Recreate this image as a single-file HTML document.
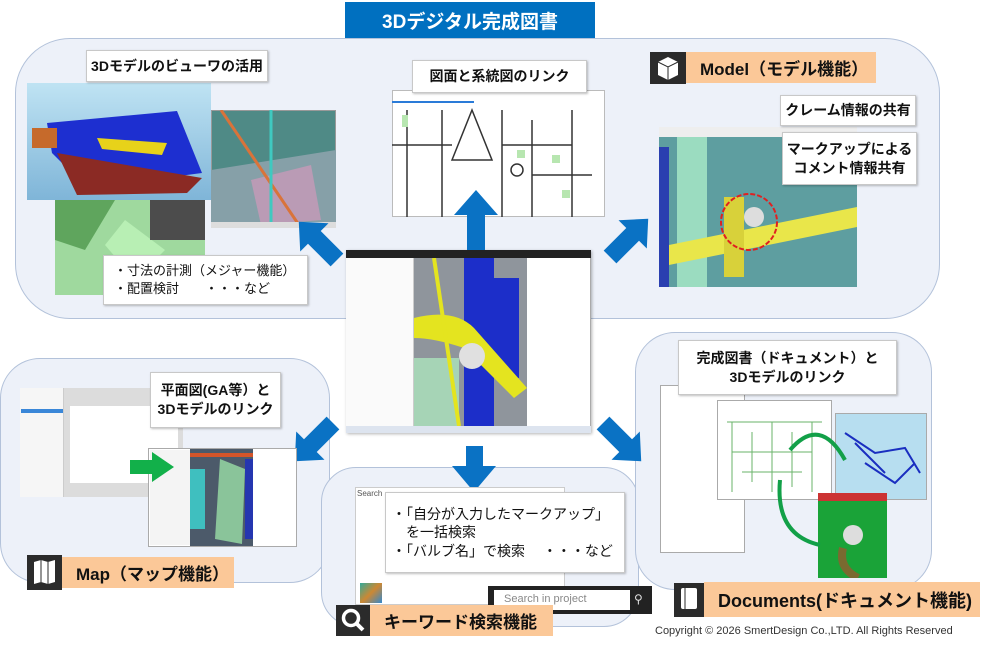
<!DOCTYPE html>
<html><head><meta charset="utf-8"><style>
html,body{margin:0;padding:0;background:#fff;}
body{width:1000px;height:650px;position:relative;overflow:hidden;font-family:"Liberation Sans","Noto Sans CJK JP",sans-serif;}
.a{position:absolute;box-sizing:border-box;}
.panel{background:#edf1f9;border:1.5px solid #b3c2da;}
.lbl{background:#fff;border:1px solid #c8c8c8;box-shadow:1px 1px 2px rgba(0,0,0,.25);font-weight:bold;color:#111;display:flex;align-items:center;justify-content:center;text-align:center;font-size:14px;line-height:1.35;}
.or{background:#fbc898;font-weight:bold;font-size:17px;color:#111;display:flex;align-items:center;padding-left:14px;}
.ic{background:#2b2b2b;}
</style></head><body>

<div class="a panel" style="left:15px;top:38px;width:925px;height:281px;border-radius:55px;"></div>
<div class="a panel" style="left:0;top:358px;width:330px;height:225px;border-radius:40px;"></div>
<div class="a panel" style="left:321px;top:467px;width:318px;height:160px;border-radius:35px;"></div>
<div class="a panel" style="left:635px;top:332px;width:297px;height:258px;border-radius:40px;"></div>

<div class="a" style="left:345px;top:2px;width:250px;height:36px;background:#0070c0;color:#fff;font-weight:bold;font-size:19px;display:flex;align-items:center;justify-content:center;">3Dデジタル完成図書</div>

<div class="a" style="left:27px;top:83px;width:184px;height:117px;background:linear-gradient(#bfe3f3,#7fb5d8);"></div>
<svg class="a" style="left:27px;top:83px" width="184" height="117"><path d="M20 40 L150 28 L175 90 L60 105 L25 70Z" fill="#1d2fd0"/><path d="M30 70 L175 95 L160 110 L50 112Z" fill="#8b2a24"/><rect x="5" y="45" width="25" height="20" fill="#c66a2b"/><path d="M70 55 L140 60 L135 72 L75 66Z" fill="#e7d21a"/></svg>
<div class="a" style="left:55px;top:200px;width:150px;height:95px;background:#9fd99e;"></div>
<svg class="a" style="left:55px;top:200px" width="150" height="95"><path d="M0 0 L60 0 L30 50 L0 40Z" fill="#5fa55d"/><path d="M70 20 L110 50 L80 80 L50 45Z" fill="#b8efb4"/><rect x="95" y="0" width="55" height="40" fill="#4c4c4c"/></svg>
<div class="a" style="left:211px;top:110px;width:125px;height:118px;background:#4f8a86;border:1px solid #999;"></div>
<svg class="a" style="left:211px;top:110px" width="125" height="118"><path d="M0 60 L125 40 L125 118 L0 118Z" fill="#86a0a8"/><path d="M40 70 L100 55 L110 110 L50 115Z" fill="#c79ab8" opacity=".8"/><line x1="10" y1="0" x2="90" y2="118" stroke="#d9733a" stroke-width="3"/><line x1="60" y1="0" x2="60" y2="118" stroke="#3fc9c0" stroke-width="3"/><rect x="0" y="112" width="125" height="6" fill="#ddd"/></svg>
<div class="a lbl" style="left:86px;top:50px;width:182px;height:32px;">3Dモデルのビューワの活用</div>
<div class="a lbl" style="left:103px;top:255px;width:205px;height:50px;justify-content:flex-start;text-align:left;padding-left:10px;font-size:13px;font-weight:normal;">・寸法の計測（メジャー機能）<br>・配置検討　　・・・など</div>

<div class="a" style="left:392px;top:90px;width:213px;height:127px;background:#fff;border:1px solid #bbb;"></div>
<svg class="a" style="left:392px;top:90px" width="213" height="127"><line x1="0" y1="12" x2="82" y2="12" stroke="#2a7bd8" stroke-width="2"/><g stroke="#333" fill="none" stroke-width="1.5"><path d="M15 20 V127 M50 20 V127 M110 20 V127 M140 30 V127 M180 20 V127 M0 55 H60 M110 55 H180 M60 70 L80 20 L100 70Z M140 85 H200"/><circle cx="125" cy="80" r="6"/></g><g fill="#b7e6b0"><rect x="10" y="25" width="6" height="12"/><rect x="125" y="60" width="8" height="8"/><rect x="160" y="65" width="8" height="8"/><rect x="170" y="100" width="8" height="8"/></g></svg>
<div class="a lbl" style="left:412px;top:60px;width:175px;height:33px;">図面と系統図のリンク</div>

<div class="a ic" style="left:650px;top:52px;width:36px;height:32px;"></div>
<svg class="a" style="left:656px;top:55px" width="24" height="27"><path d="M12 2 L22 7 V20 L12 25 L2 20 V7Z" fill="#fff"/><path d="M12 12 V25 M2 7 L12 12 L22 7" stroke="#2b2b2b" fill="none"/></svg>
<div class="a or" style="left:686px;top:52px;width:190px;height:31px;">Model（モデル機能）</div>
<div class="a" style="left:659px;top:127px;width:198px;height:160px;background:#4b8a86;border:1px solid #bbb;"></div>
<svg class="a" style="left:659px;top:127px" width="198" height="160"><rect width="198" height="10" fill="#eee"/><rect x="0" y="10" width="198" height="150" fill="#5e9ea0"/><rect x="18" y="10" width="30" height="150" fill="#9bdcc0"/><path d="M0 120 L198 80 L198 100 L0 140Z" fill="#e9e64a"/><rect x="65" y="70" width="20" height="80" fill="#d8d13a"/><circle cx="90" cy="95" r="28" fill="none" stroke="#e02020" stroke-width="2" stroke-dasharray="5 2"/><circle cx="95" cy="90" r="10" fill="#ddd"/><rect x="0" y="20" width="10" height="140" fill="#2a3fb0"/></svg>
<div class="a lbl" style="left:780px;top:95px;width:136px;height:31px;">クレーム情報の共有</div>
<div class="a lbl" style="left:782px;top:132px;width:135px;height:53px;">マークアップによる<br>コメント情報共有</div>

<div class="a" style="left:346px;top:250px;width:245px;height:183px;background:#fff;border:1px solid #aaa;box-shadow:1px 1px 3px rgba(0,0,0,.3);"></div>
<div class="a" style="left:346px;top:250px;width:245px;height:8px;background:#222;"></div>
<div class="a" style="left:346px;top:258px;width:68px;height:168px;background:#fafafa;border-right:1px solid #ccc;"></div>
<svg class="a" style="left:414px;top:258px" width="113" height="168"><rect width="113" height="168" fill="#8f959c"/><rect x="50" y="0" width="30" height="168" fill="#1c2ec9"/><rect x="80" y="20" width="25" height="100" fill="#1c2ec9"/><path d="M0 60 Q40 50 60 70 L113 130 L100 140 L50 90 Q20 80 0 80Z" fill="#e4e41f"/><circle cx="58" cy="98" r="13" fill="#e0e0e0"/><rect x="0" y="100" width="45" height="68" fill="#a6d4b6"/><line x1="20" y1="0" x2="45" y2="168" stroke="#e4e41f" stroke-width="4"/></svg>
<div class="a" style="left:346px;top:426px;width:245px;height:7px;background:#dde4ef;"></div>

<svg class="a" style="left:0;top:0" width="1000" height="650">
<g fill="#0a72c4">
<path d="M467 250 H485 V215 H498 L476 190 L454 215 H467Z"/>
<g transform="translate(320,243) rotate(-135)"><path d="M-24 -9 H8 V-20 L30 0 L8 20 V9 H-24Z"/></g>
<g transform="translate(627,240) rotate(-45)"><path d="M-24 -9 H8 V-20 L30 0 L8 20 V9 H-24Z"/></g>
<g transform="translate(316,440) rotate(135)"><path d="M-24 -9 H8 V-20 L30 0 L8 20 V9 H-24Z"/></g>
<g transform="translate(620,440) rotate(45)"><path d="M-24 -9 H8 V-20 L30 0 L8 20 V9 H-24Z"/></g>
<path d="M466 446 H483 V466 H496 L474 492 L452 466 H466Z"/>
</g></svg>

<div class="a" style="left:20px;top:388px;width:163px;height:109px;background:#fff;border:1px solid #aaa;"></div>
<div class="a" style="left:20px;top:388px;width:44px;height:109px;background:#f6f6f6;border-right:1px solid #ccc;"></div>
<div class="a" style="left:21px;top:409px;width:42px;height:4px;background:#3a87d8;"></div>
<div class="a" style="left:64px;top:388px;width:119px;height:109px;background:#dcdcdc;"></div>
<div class="a" style="left:70px;top:406px;width:108px;height:77px;background:#fff;"></div>
<div class="a" style="left:148px;top:448px;width:149px;height:99px;background:#fff;border:1px solid #aaa;"></div>
<div class="a" style="left:150px;top:450px;width:40px;height:95px;background:#f4f4f4;"></div>
<svg class="a" style="left:190px;top:449px" width="63" height="97"><rect width="63" height="97" fill="#4c5a6a"/><rect x="0" y="4" width="63" height="4" fill="#d4552a"/><path d="M30 10 L55 20 L52 95 L25 90Z" fill="#8ac49a"/><rect x="0" y="20" width="15" height="60" fill="#3fbfbf"/><rect x="55" y="10" width="8" height="80" fill="#2536b0"/></svg>
<svg class="a" style="left:130px;top:452px" width="45" height="30"><path d="M0 8 H22 V0 L44 15 L22 30 V22 H0Z" fill="#12b04a"/></svg>
<div class="a lbl" style="left:150px;top:372px;width:131px;height:56px;">平面図(GA等）と<br>3Dモデルのリンク</div>
<div class="a ic" style="left:27px;top:555px;width:35px;height:35px;"></div>
<svg class="a" style="left:33px;top:560px" width="23" height="24"><path d="M1 2 L8 0 L15 2 L22 0 V22 L15 24 L8 22 L1 24Z" fill="#fff"/><path d="M8 0 V22 M15 2 V24" stroke="#2b2b2b"/></svg>
<div class="a or" style="left:62px;top:557px;width:172px;height:31px;">Map（マップ機能）</div>

<div class="a" style="left:355px;top:487px;width:210px;height:118px;background:#fff;border:1px solid #ccc;"></div>
<div class="a" style="left:357px;top:489px;font-size:8px;color:#555;">Search</div>
<div class="a" style="left:360px;top:583px;width:22px;height:20px;background:linear-gradient(135deg,#3a9,#c83,#38c);"></div>
<div class="a lbl" style="left:385px;top:492px;width:240px;height:81px;justify-content:flex-start;text-align:left;padding-left:6px;font-size:14px;font-weight:normal;line-height:1.3;">・「自分が入力したマークアップ」<br>　を一括検索<br>・「バルブ名」で検索　 ・・・など</div>
<div class="a" style="left:488px;top:586px;width:164px;height:28px;background:#222;"></div>
<div class="a" style="left:494px;top:590px;width:136px;height:20px;background:#fff;color:#888;font-size:11px;padding:3px 0 0 10px;">Search in project</div>
<div class="a" style="left:634px;top:592px;color:#ddd;font-size:12px;">&#9906;</div>
<div class="a ic" style="left:336px;top:605px;width:34px;height:31px;"></div>
<svg class="a" style="left:340px;top:607px" width="26" height="26"><circle cx="11" cy="11" r="7.5" fill="none" stroke="#fff" stroke-width="3.5"/><line x1="16" y1="16" x2="23" y2="23" stroke="#fff" stroke-width="4"/></svg>
<div class="a or" style="left:370px;top:605px;width:183px;height:31px;">キーワード検索機能</div>

<div class="a" style="left:660px;top:385px;width:85px;height:168px;background:#fff;border:1px solid #aaa;"></div>
<div class="a" style="left:717px;top:400px;width:115px;height:100px;background:#fff;border:1px solid #aaa;"></div>
<svg class="a" style="left:722px;top:412px" width="105" height="85"><g stroke="#6ab36a" fill="none"><path d="M5 10 H100 M10 10 V80 M30 20 V70 M50 10 V80 M70 20 V75 M90 10 V80 M10 40 H90 M20 60 H80"/></g></svg>
<div class="a" style="left:835px;top:413px;width:92px;height:87px;background:#b7def0;border:1px solid #aaa;"></div>
<svg class="a" style="left:835px;top:413px" width="92" height="87"><g stroke="#1a2ec0" stroke-width="2" fill="none"><path d="M10 20 L40 40 L70 35 L85 60 M30 50 L60 70 L80 50 M20 30 L50 60"/></g></svg>
<div class="a" style="left:818px;top:493px;width:69px;height:85px;background:#1aa338;"></div>
<svg class="a" style="left:818px;top:493px" width="69" height="85"><rect width="69" height="8" fill="#c33"/><circle cx="35" cy="42" r="10" fill="#ddd"/><path d="M25 55 Q20 75 40 85" stroke="#7a6a30" stroke-width="8" fill="none"/></svg>
<svg class="a" style="left:760px;top:420px" width="120" height="140"><path d="M30 30 Q60 -5 85 40" stroke="#12a048" stroke-width="4" fill="none"/><path d="M20 60 Q15 115 60 125" stroke="#12a048" stroke-width="4" fill="none"/></svg>
<div class="a lbl" style="left:678px;top:340px;width:219px;height:55px;">完成図書（ドキュメント）と<br>3Dモデルのリンク</div>
<div class="a ic" style="left:674px;top:583px;width:30px;height:34px;"></div>
<svg class="a" style="left:679px;top:587px" width="20" height="24"><rect x="2" y="1" width="16" height="21" rx="2" fill="#fff"/><line x1="6" y1="1" x2="6" y2="22" stroke="#2b2b2b"/></svg>
<div class="a or" style="left:704px;top:582px;width:276px;height:35px;font-size:18px;">Documents(ドキュメント機能)</div>

<div class="a" style="left:655px;top:625px;font-size:11px;color:#333;">Copyright © 2026 SmertDesign Co.,LTD. All Rights Reserved</div>
</body></html>
